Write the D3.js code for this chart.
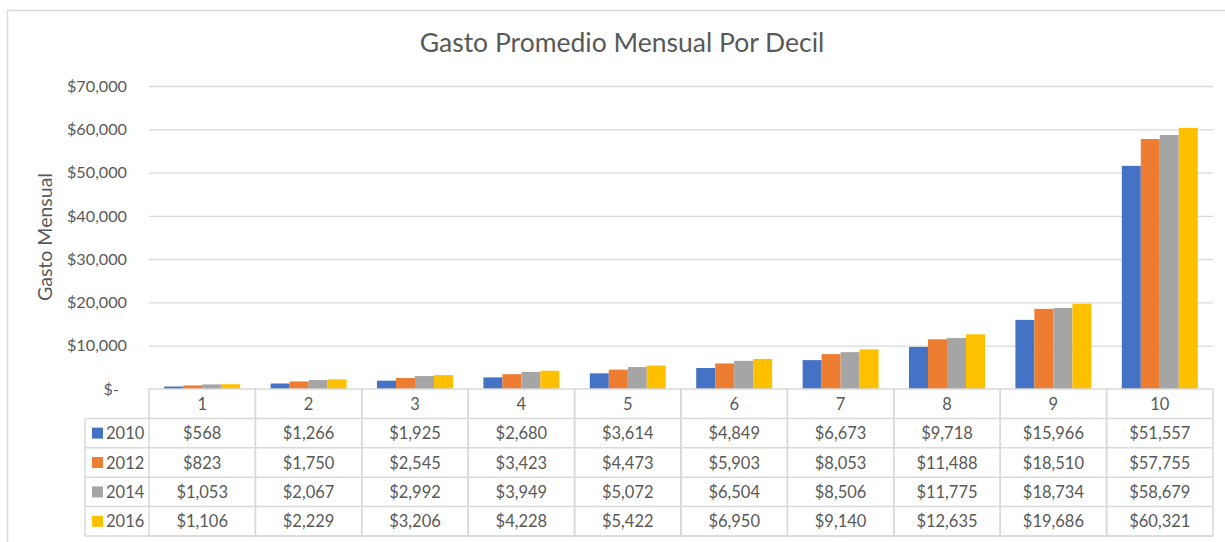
<!DOCTYPE html>
<html><head><meta charset="utf-8">
<script src="https://cdn.jsdelivr.net/npm/d3@7"></script>
<style>
body{margin:0;background:#fff;}
svg{display:block;font-family:Lato, "Open Sans", sans-serif;}
</style></head>
<body>
<svg id="c" width="1225" height="542"></svg>
<script>
const deciles = ["1","2","3","4","5","6","7","8","9","10"];
const years = ["2010","2012","2014","2016"];
const v2010 = [568,1266,1925,2680,3614,4849,6673,9718,15966,51557];
const v2012 = [823,1750,2545,3423,4473,5903,8053,11488,18510,57755];
const v2014 = [1053,2067,2992,3949,5072,6504,8506,11775,18734,58679];
const v2016 = [1106,2229,3206,4228,5422,6950,9140,12635,19686,60321];
const yTicks = [0,10000,20000,30000,40000,50000,60000,70000];
const colors = ["#4472C4","#ED7D31","#A5A5A5","#FFC000"];
const title = "Gasto Promedio Mensual Por Decil";
const yTitle = "Gasto Mensual";

(function(){
const series = [v2010,v2012,v2014,v2016];
const svg = d3.select("#c");
const textCol = "#595959", lineCol = "#d9d9d9";

svg.append("rect").attr("x",7.5).attr("y",10.5).attr("width",1240).attr("height",560)
  .attr("fill","none").attr("stroke",lineCol).attr("stroke-width",1.5);

const pLeft = 149, pRight = 1213, pTop = 86, zeroY = 389;
const x = d3.scaleBand().domain(deciles).range([pLeft,pRight]).padding(0);
const bw = x.bandwidth();
const gap = bw*0.143;
const x1 = d3.scaleBand().domain(years).range([gap,bw-gap]).padding(0);
const y = d3.scaleLinear().domain([0,70000]).range([zeroY,pTop]);

svg.append("text").attr("x",622).attr("y",52).attr("text-anchor","middle")
  .attr("fill",textCol).attr("font-size",26.5).text(title);

svg.append("g").selectAll("line").data(yTicks.filter(d=>d>0)).join("line")
  .attr("x1",pLeft).attr("x2",pRight).attr("y1",d=>y(d)+0.5).attr("y2",d=>y(d)+0.5)
  .attr("stroke",lineCol).attr("stroke-width",1.3);

const fmt = d=> d===0 ? "$-" : "$"+d3.format(",")(d);
const yAxis = d3.axisLeft(y).tickValues(yTicks).tickFormat(fmt).tickSize(0).tickPadding(0);
const ga = svg.append("g").attr("transform",`translate(127,0)`).call(yAxis);
ga.select(".domain").remove();
ga.selectAll("text").attr("fill",textCol).attr("font-size",16.2).attr("font-family","Lato");
ga.selectAll(".tick").filter(d=>d===0).select("text").attr("dx",-8);

svg.append("text").attr("transform","translate(52,237) rotate(-90)").attr("text-anchor","middle")
  .attr("fill",textCol).attr("font-size",19.5).text(yTitle);

const gb = svg.append("g");
series.forEach((s,i)=>{
  gb.append("g").selectAll("rect").data(s).join("rect")
    .attr("x",(d,j)=>x(deciles[j])+x1(years[i]))
    .attr("width",x1.bandwidth())
    .attr("y",d=>y(d)).attr("height",d=>zeroY-y(d))
    .attr("fill",colors[i]);
});

const rowH = 29.4;
const tableLeft = 85;
const tg = svg.append("g");
deciles.forEach((d,j)=>{
  tg.append("rect").attr("x",x(d)).attr("y",zeroY).attr("width",bw).attr("height",rowH*5)
    .attr("fill","none").attr("stroke",lineCol).attr("stroke-width",1.5);
  tg.append("text").attr("x",x(d)+bw/2).attr("y",zeroY+rowH/2+6).attr("text-anchor","middle")
    .attr("fill",textCol).attr("font-size",16.5).text(d);
});
for(let r=1;r<=5;r++){
  tg.append("line").attr("x1",tableLeft).attr("x2",pRight)
    .attr("y1",zeroY+rowH*r).attr("y2",zeroY+rowH*r)
    .attr("stroke",lineCol).attr("stroke-width",1.5);
}
tg.append("line").attr("x1",tableLeft).attr("x2",tableLeft)
  .attr("y1",zeroY+rowH).attr("y2",zeroY+rowH*5).attr("stroke",lineCol).attr("stroke-width",1.5);

const money = d=>"$"+d3.format(",")(d);
series.forEach((s,i)=>{
  const cy = zeroY+rowH*(i+1)+rowH/2;
  tg.append("rect").attr("x",92).attr("y",cy-5.5).attr("width",11).attr("height",11).attr("fill",colors[i]);
  tg.append("text").attr("x",106).attr("y",cy+6).attr("fill",textCol).attr("font-size",16.5).text(years[i]);
  tg.append("g").selectAll("text").data(s).join("text")
    .attr("x",(d,j)=>x(deciles[j])+bw/2).attr("y",cy+6).attr("text-anchor","middle")
    .attr("fill",textCol).attr("font-size",16.5).text(money);
});
})();
</script>
</body></html>
